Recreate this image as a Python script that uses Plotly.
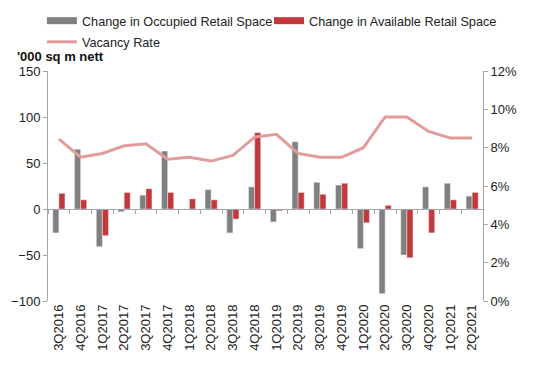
import plotly.graph_objects as go

quarters = ["3Q2016", "4Q2016", "1Q2017", "2Q2017", "3Q2017", "4Q2017", "1Q2018", "2Q2018",
            "3Q2018", "4Q2018", "1Q2019", "2Q2019", "3Q2019", "4Q2019", "1Q2020", "2Q2020",
            "3Q2020", "4Q2020", "1Q2021", "2Q2021"]
occupied = [-26, 65, -41, -3, 15, 63, 0, 21, -26, 24, -14, 73, 29, 26, -43, -92, -50, 24, 28, 14]
available = [17, 10, -29, 18, 22, 18, 11, 10, -11, 83, -2, 18, 16, 28, -15, 4, -53, -26, 10, 18]
vacancy = [8.45, 7.5, 7.7, 8.1, 8.2, 7.4, 7.5, 7.3, 7.6, 8.55, 8.7, 7.7, 7.5, 7.5, 8.0, 9.6, 9.6,
           8.85, 8.5, 8.5]
vacancy_frac = [v / 100 for v in vacancy]

FONT = "Liberation Sans, Arial, sans-serif"
GRAY = "#808080"
RED = "#c4383b"
PINK = "#e39c9c"
AXIS = "#a6a6a6"

fig = go.Figure()
fig.add_trace(go.Bar(x=quarters, y=occupied, name="Change in Occupied Retail Space",
                     marker_color=GRAY, xaxis="x", yaxis="y", showlegend=False))
fig.add_trace(go.Bar(x=quarters, y=available, name="Change in Available Retail Space",
                     marker_color=RED, xaxis="x", yaxis="y", showlegend=False))
# legend-only entries drawn as wide flat swatches, like the reference
fig.add_trace(go.Scatter(x=[None], y=[None], name="Change in Occupied Retail Space",
                         mode="lines", line=dict(color=GRAY, width=7), showlegend=True,
                         xaxis="x", yaxis="y", legend="legend"))
fig.add_trace(go.Scatter(x=[None], y=[None], name="Change in Available Retail Space",
                         mode="lines", line=dict(color=RED, width=7), showlegend=True,
                         xaxis="x", yaxis="y", legend="legend2"))
fig.add_trace(go.Scatter(x=quarters, y=vacancy_frac, name="Vacancy Rate", mode="lines",
                         line=dict(color=PINK, width=3), xaxis="x2", yaxis="y2",
                         legend="legend3"))

leg_common = dict(orientation="h", xanchor="left", yanchor="top", font=dict(size=12.7),
                  itemwidth=30, bgcolor="rgba(0,0,0,0)")

fig.update_layout(
    width=550, height=365,
    margin=dict(l=48, r=67, t=71, b=64, autoexpand=False),
    paper_bgcolor="white", plot_bgcolor="white",
    font=dict(family=FONT, size=13, color="#222222"),
    barmode="group", bargap=0.44, bargroupgap=0,
    showlegend=True,
    legend=dict(x=-0.014, y=1.283, **leg_common),
    legend2=dict(x=0.508, y=1.283, **leg_common),
    legend3=dict(x=-0.014, y=1.191, **leg_common),
    xaxis=dict(type="category", categoryorder="array", categoryarray=quarters,
               range=[-0.5, 19.5], showline=False, ticks="", showgrid=False,
               tickangle=-90, tickfont=dict(size=13), zeroline=False),
    xaxis2=dict(type="category", categoryorder="array", categoryarray=quarters,
                range=[-0.5, 19.5], overlaying="x", anchor="free", position=0.4,
                showline=True, linecolor=AXIS, linewidth=1, ticks="outside",
                tickson="boundaries", ticklen=4, tickcolor=AXIS,
                showticklabels=False, showgrid=False, zeroline=False),
    yaxis=dict(range=[-100, 150], dtick=50, showgrid=False, zeroline=False,
               showline=True, linecolor=AXIS, ticks="outside", ticklen=4,
               tickcolor=AXIS, tickfont=dict(size=13)),
    yaxis2=dict(range=[0, 0.12], dtick=0.02, tickformat=".0%", overlaying="y",
                side="right", anchor="x", showgrid=False, zeroline=False,
                showline=True, linecolor=AXIS, ticks="outside", ticklen=4,
                tickcolor=AXIS, tickfont=dict(size=13)),
    annotations=[dict(text="<b>'000 sq m nett</b>", xref="paper", yref="paper",
                      x=-0.076, y=1.061, xanchor="left", yanchor="middle",
                      showarrow=False, font=dict(size=13, color="#111111"))],
)

fig.write_html("out.html")
